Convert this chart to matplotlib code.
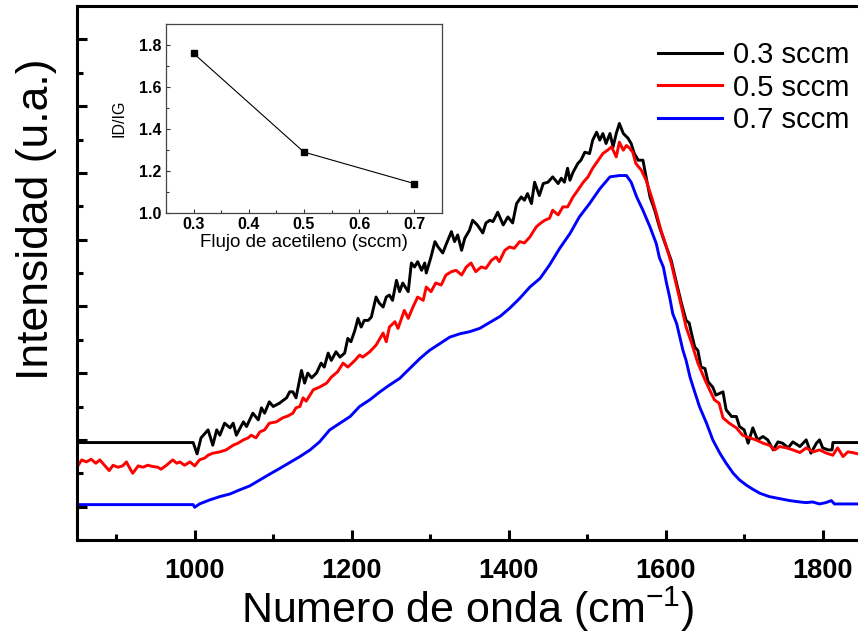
import matplotlib
matplotlib.use("Agg")
import matplotlib.pyplot as plt
from matplotlib.ticker import MultipleLocator, NullFormatter

plt.rcParams['font.family'] = ['Liberation Sans', 'DejaVu Sans']
plt.rcParams['mathtext.fontset'] = 'custom'
plt.rcParams['mathtext.rm'] = 'Liberation Sans'
plt.rcParams['mathtext.default'] = 'regular'

# ---------------- data ----------------
labels = ['0.3 sccm', '0.5 sccm', '0.7 sccm']
colors = ['black', 'red', 'blue']

black_wn = [850, 998, 1003, 1008, 1017, 1023, 1028, 1032, 1038, 1045, 1049, 1053, 1062, 1066, 1074, 1081, 1085,
            1089, 1095, 1100, 1108, 1117, 1121, 1125, 1129, 1136, 1140, 1144, 1149, 1155, 1161, 1165, 1170, 1174,
            1180, 1185, 1191, 1195, 1199, 1204, 1208, 1212, 1216, 1221, 1225, 1231, 1235, 1240, 1244, 1248, 1252,
            1257, 1261, 1265, 1272, 1276, 1280, 1284, 1289, 1293, 1295, 1301, 1306, 1310, 1316, 1320, 1327, 1331,
            1335, 1340, 1344, 1350, 1354, 1360, 1367, 1371, 1376, 1380, 1386, 1393, 1399, 1405, 1410, 1416, 1420,
            1424, 1429, 1433, 1439, 1444, 1450, 1456, 1463, 1467, 1471, 1475, 1478, 1482, 1488, 1492, 1497, 1503,
            1507, 1512, 1516, 1520, 1524, 1529, 1533, 1537, 1541, 1546, 1552, 1556, 1560, 1565, 1571, 1575, 1580,
            1586, 1592, 1599, 1607, 1613, 1620, 1626, 1630, 1632, 1637, 1641, 1645, 1650, 1654, 1660, 1664, 1673,
            1677, 1684, 1690, 1694, 1700, 1705, 1711, 1717, 1724, 1730, 1737, 1743, 1749, 1756, 1762, 1771, 1779,
            1785, 1792, 1796, 1800, 1807, 1812, 1813, 1845]
black_val = [0.96, 0.96, 0.79, 1.03, 1.15, 0.92, 1.15, 1.07, 1.25, 1.18, 1.25, 1.07, 1.27, 1.20, 1.40, 1.30, 1.48,
             1.40, 1.57, 1.50, 1.55, 1.63, 1.72, 1.72, 1.63, 2.04, 1.85, 2.00, 1.93, 2.00, 2.15, 2.09, 2.30, 2.19,
             2.32, 2.24, 2.30, 2.52, 2.47, 2.64, 2.82, 2.69, 2.79, 2.79, 2.84, 3.14, 3.05, 2.99, 3.14, 3.17, 3.09,
             3.39, 3.22, 3.35, 3.22, 3.65, 3.59, 3.67, 3.54, 3.65, 3.50, 3.74, 3.97, 3.89, 3.80, 3.92, 4.12, 3.97,
             4.07, 3.84, 4.02, 4.14, 4.29, 4.22, 4.10, 4.25, 4.29, 4.27, 4.41, 4.22, 4.34, 4.25, 4.54, 4.64, 4.59,
             4.69, 4.54, 4.86, 4.66, 4.84, 4.86, 4.94, 4.84, 4.92, 4.86, 5.07, 4.89, 5.01, 5.14, 5.19, 5.31, 5.29,
             5.49, 5.61, 5.49, 5.59, 5.44, 5.59, 5.39, 5.59, 5.74, 5.59, 5.52, 5.44, 5.29, 5.19, 5.19, 4.94, 4.64,
             4.44, 4.19, 3.95, 3.69, 3.39, 3.05, 2.79, 2.75, 2.64, 2.39, 2.34, 2.09, 2.07, 1.87, 1.79, 1.67, 1.72,
             1.45, 1.35, 1.35, 1.20, 1.15, 0.95, 1.18, 1.00, 1.05, 1.00, 0.85, 0.97, 0.95, 0.88, 0.97, 0.90, 1.00,
             0.80, 0.95, 1.00, 0.88, 0.85, 0.85, 0.96, 0.96]

red_wn = [851, 856, 862, 868, 874, 879, 885, 891, 896, 902, 908, 913, 917, 921, 928, 934, 940, 947, 953, 957, 964,
          972, 977, 981, 987, 994, 1000, 1006, 1013, 1017, 1023, 1032, 1040, 1049, 1055, 1062, 1068, 1072, 1078,
          1083, 1089, 1095, 1104, 1112, 1119, 1125, 1129, 1134, 1138, 1142, 1151, 1159, 1168, 1174, 1182, 1189,
          1195, 1204, 1210, 1214, 1223, 1231, 1240, 1244, 1248, 1255, 1259, 1267, 1272, 1278, 1284, 1291, 1295,
          1301, 1307, 1314, 1320, 1327, 1333, 1340, 1346, 1352, 1358, 1365, 1371, 1378, 1384, 1388, 1395, 1401,
          1407, 1414, 1420, 1427, 1435, 1441, 1446, 1452, 1456, 1463, 1469, 1475, 1482, 1488, 1495, 1501, 1507,
          1514, 1520, 1526, 1531, 1537, 1541, 1546, 1550, 1554, 1558, 1562, 1569, 1575, 1582, 1588, 1594, 1601,
          1607, 1613, 1620, 1626, 1633, 1641, 1650, 1656, 1662, 1668, 1673, 1681, 1690, 1698, 1707, 1715, 1724,
          1732, 1739, 1745, 1754, 1762, 1771, 1779, 1788, 1796, 1805, 1813, 1819, 1826, 1832, 1838, 1845]
red_val = [0.61, 0.70, 0.67, 0.71, 0.65, 0.70, 0.62, 0.54, 0.62, 0.59, 0.61, 0.67, 0.58, 0.50, 0.61, 0.59, 0.62,
           0.60, 0.59, 0.56, 0.62, 0.70, 0.65, 0.67, 0.62, 0.67, 0.61, 0.70, 0.73, 0.77, 0.80, 0.82, 0.85, 0.92,
           0.95, 1.00, 1.03, 1.07, 1.03, 1.12, 1.15, 1.25, 1.27, 1.33, 1.36, 1.40, 1.48, 1.50, 1.63, 1.58, 1.75,
           1.79, 1.85, 1.94, 2.02, 2.15, 2.09, 2.19, 2.27, 2.24, 2.32, 2.42, 2.60, 2.47, 2.69, 2.77, 2.67, 2.94,
           2.82, 2.99, 3.14, 3.09, 3.29, 3.22, 3.35, 3.32, 3.47, 3.52, 3.54, 3.47, 3.59, 3.65, 3.52, 3.59, 3.57,
           3.69, 3.74, 3.67, 3.84, 3.89, 3.87, 3.97, 3.95, 4.04, 4.19, 4.25, 4.29, 4.32, 4.44, 4.37, 4.49, 4.49,
           4.64, 4.74, 4.86, 4.94, 5.07, 5.19, 5.29, 5.34, 5.39, 5.24, 5.46, 5.34, 5.41, 5.37, 5.31, 5.14, 5.04,
           4.89, 4.64, 4.40, 4.14, 3.89, 3.65, 3.35, 3.00, 2.69, 2.45, 2.15, 1.90, 1.75, 1.60, 1.55, 1.33, 1.25,
           1.18, 1.07, 1.03, 1.00, 0.95, 0.92, 0.85, 0.90, 0.88, 0.85, 0.81, 0.88, 0.82, 0.85, 0.80, 0.77, 0.88,
           0.75, 0.82, 0.81, 0.79]

blue_wn = [850, 998, 1000, 1006, 1019, 1032, 1045, 1057, 1070, 1083, 1096, 1108, 1121, 1134, 1147, 1159, 1172,
           1185, 1198, 1210, 1223, 1236, 1248, 1261, 1274, 1287, 1299, 1312, 1325, 1338, 1350, 1363, 1376, 1389,
           1401, 1414, 1427, 1440, 1452, 1465, 1478, 1490, 1503, 1516, 1529, 1541, 1550, 1556, 1563, 1571, 1580,
           1588, 1592, 1597, 1601, 1605, 1609, 1614, 1618, 1622, 1626, 1631, 1635, 1643, 1652, 1660, 1669, 1677,
           1686, 1694, 1703, 1711, 1720, 1732, 1745, 1758, 1771, 1779, 1787, 1796, 1804, 1811, 1815, 1845]
blue_val = [0.03, 0.03, -0.01, 0.04, 0.10, 0.15, 0.19, 0.25, 0.31, 0.40, 0.49, 0.57, 0.66, 0.75, 0.85, 0.97, 1.15,
            1.25, 1.35, 1.50, 1.60, 1.72, 1.82, 1.92, 2.07, 2.22, 2.34, 2.44, 2.54, 2.59, 2.62, 2.67, 2.76, 2.85,
            2.97, 3.12, 3.29, 3.42, 3.62, 3.87, 4.09, 4.34, 4.54, 4.76, 4.94, 4.96, 4.96, 4.86, 4.64, 4.44, 4.19,
            3.94, 3.73, 3.59, 3.35, 3.14, 2.89, 2.74, 2.54, 2.34, 2.19, 1.94, 1.79, 1.50, 1.25, 1.00, 0.80, 0.65,
            0.50, 0.40, 0.32, 0.26, 0.20, 0.15, 0.12, 0.09, 0.07, 0.06, 0.07, 0.04, 0.06, 0.09, 0.04, 0.04]

# inset data
flujo = [0.3, 0.5, 0.7]
id_ig = [1.76, 1.29, 1.14]

# ---------------- figure ----------------
fig = plt.figure(figsize=(8.58, 6.39), dpi=100)
ax = fig.add_axes([77 / 858, 99 / 639, 781 / 858, 534 / 639])

for wn, val, c, lab in zip([black_wn, red_wn, blue_wn], [black_val, red_val, blue_val], colors, labels):
    ax.plot(wn, val, color=c, lw=2.1, label=lab, solid_joinstyle='round')

ax.set_xlim(850, 1845)
ax.set_ylim(-0.5, 7.5)
ax.xaxis.set_major_locator(MultipleLocator(200))
ax.xaxis.set_minor_locator(MultipleLocator(100))
ax.yaxis.set_major_locator(MultipleLocator(1))
ax.yaxis.set_minor_locator(MultipleLocator(0.5))
ax.yaxis.set_major_formatter(NullFormatter())
ax.tick_params(which='both', direction='in', width=2.2, top=False, right=False)
ax.tick_params(which='major', length=7)
ax.tick_params(which='minor', length=4)
ax.tick_params(axis='x', labelsize=19.5, pad=13)
for lbl in ax.get_xticklabels():
    lbl.set_fontweight('bold')
for side in ['left', 'bottom', 'top']:
    ax.spines[side].set_linewidth(2.2)
ax.spines['right'].set_visible(False)

ax.set_xlabel('Numero de onda (cm$^{-1}$)', fontsize=31)
ax.xaxis.set_label_coords(0.5, -0.083)
ax.set_ylabel('Intensidad (u.a.)', fontsize=32)
ax.yaxis.set_label_coords(-0.026, 0.6)

leg = ax.legend(loc='upper left', bbox_to_anchor=(658 / 858, 1 - 41 / 639), bbox_transform=fig.transFigure,
                frameon=False, fontsize=21, handlelength=2.2, handletextpad=0.38, labelspacing=0.16,
                borderpad=0, borderaxespad=0)
for line in leg.get_lines():
    line.set_linewidth(2.2)

# ---------------- inset ----------------
ins = fig.add_axes([166 / 858, 1 - 213 / 639, 276 / 858, 189 / 639], facecolor='white')
ins.plot(flujo, id_ig, color='black', lw=0.8, marker='s', markersize=5)
ins.set_xlim(0.25, 0.75)
ins.set_ylim(1.0, 1.9)
ins.xaxis.set_major_locator(MultipleLocator(0.1))
ins.xaxis.set_minor_locator(MultipleLocator(0.05))
ins.yaxis.set_major_locator(MultipleLocator(0.2))
ins.yaxis.set_minor_locator(MultipleLocator(0.1))
ins.tick_params(which='both', direction='in', width=0.8, color='#333333', labelsize=11.5, pad=3)
ins.tick_params(which='major', length=3)
ins.tick_params(which='minor', length=2)
for lbl in ins.get_xticklabels() + ins.get_yticklabels():
    lbl.set_fontweight('bold')
for s in ins.spines.values():
    s.set_linewidth(0.9)
    s.set_color('#444444')
ins.set_xlabel('Flujo de acetileno (sccm)', fontsize=13.5, labelpad=1)
ins.set_ylabel('ID/IG', fontsize=11.5, labelpad=9)

fig.savefig('out.png', dpi=100)
